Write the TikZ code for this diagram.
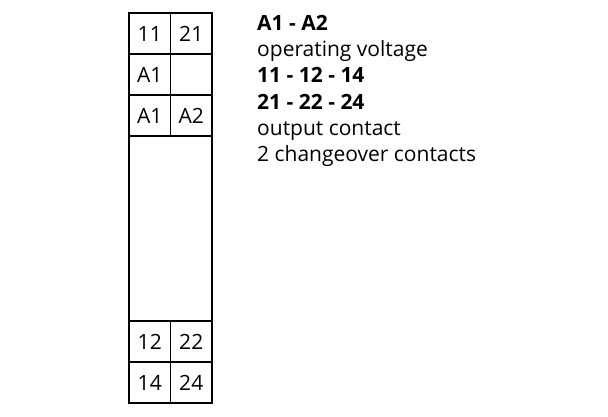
\documentclass[tikz,border=0pt]{standalone}
\usepackage{fontspec}
\setmainfont{Open Sans}
\usetikzlibrary{positioning}

\begin{document}
\begin{tikzpicture}[
  x=1pt, y=1pt,
  node distance = 0pt,
  cell/.style = {
    rectangle,
    draw = black,
    line width = 1.6pt,
    minimum width = 41.5pt,
    minimum height = 41pt,
    inner sep = 0pt,
    outer sep = 0pt
  },
  body/.style = {
    rectangle,
    draw = black,
    line width = 1.6pt,
    minimum width = 83pt,
    minimum height = 185pt,
    inner sep = 0pt,
    outer sep = 0pt
  },
  legend/.style = {
    align = left,
    inner sep = 0pt,
    font = \fontsize{21pt}{26.2pt}\selectfont
  },
  every node/.style={
    font=\fontsize{21pt}{25pt}\selectfont
  }
]
\useasboundingbox (0,0) rectangle (608,-416);

% Terminal cells
\node[cell] (t11) at (149.75,-33.5) {11};
\node[cell, right=of t11] (t21) {21};
\node[cell, below=of t11] (ta1) {A1};
\node[cell, below=of t21] (tempty) {};
\node[cell, below=of ta1] (ta1b) {A1};
\node[cell, below=of tempty] (ta2) {A2};

% Housing
\node[body, anchor=north west] (housing) at (ta1b.south west) {};

\node[cell, anchor=north west] (t12) at (housing.south west) {12};
\node[cell, right=of t12] (t22) {22};
\node[cell, below=of t12] (t14) {14};
\node[cell, below=of t22] (t24) {24};

% Legend
\node[legend, anchor=north west] (legend) at (257,-15) {%
  \textbf{A1 - A2}\\
  operating voltage\\
  \textbf{11 - 12 - 14}\\
  \textbf{21 - 22 - 24}\\
  output contact\\
  2 changeover contacts};

\end{tikzpicture}
\end{document}
